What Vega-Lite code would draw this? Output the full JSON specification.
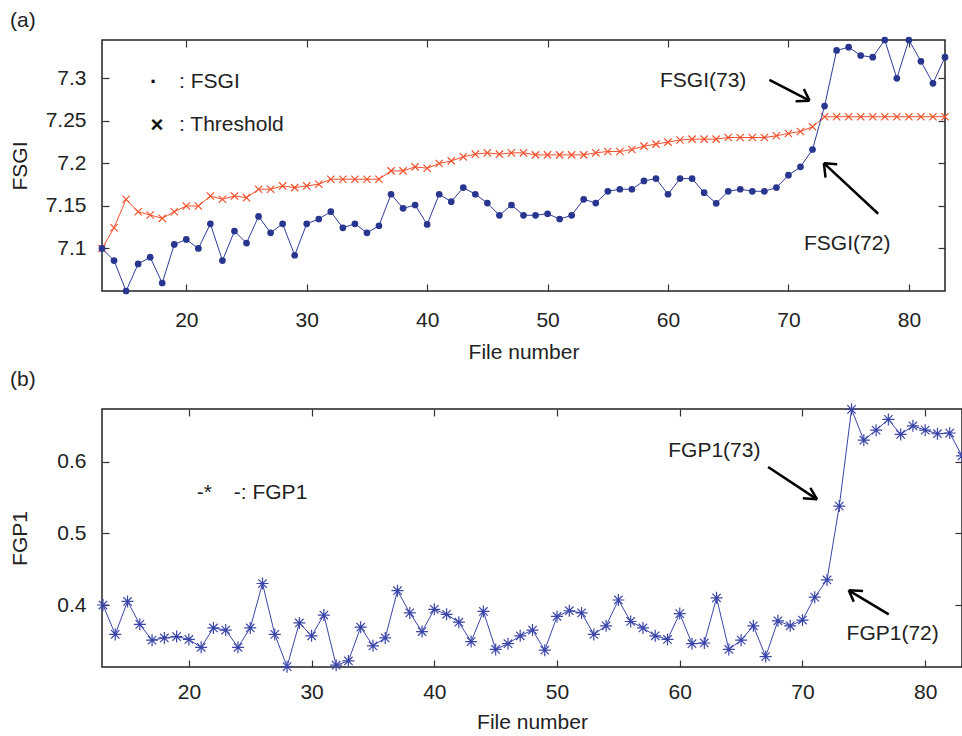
{
  "$schema": "https://vega.github.io/schema/vega-lite/v6.json",
  "padding": {"left": 8, "top": 8, "right": 0, "bottom": 0},
  "background": "white",
  "bounds": "flush",
  "spacing": 118,
  "config": {
    "font": "Liberation Sans",
    "view": {"stroke": "#222", "strokeWidth": 1.5},
    "axis": {
      "labelFont": "Liberation Sans", "titleFont": "Liberation Sans",
      "labelFontSize": 21, "titleFontSize": 21,
      "labelColor": "#222", "titleColor": "#222", "titleFontWeight": "normal",
      "grid": false, "domain": false, "tickColor": "#333", "tickSize": -7, "tickWidth": 1.2
    },
    "title": {"font": "Liberation Sans", "fontSize": 21, "fontWeight": "normal", "color": "#222"}
  },
  "datasets": {
    "fsgi": [
      {"n": 13, "fsgi": 7.1000, "thr": 7.1000},
      {"n": 14, "fsgi": 7.0858, "thr": 7.1243},
      {"n": 15, "fsgi": 7.0500, "thr": 7.1578},
      {"n": 16, "fsgi": 7.0818, "thr": 7.1432},
      {"n": 17, "fsgi": 7.0897, "thr": 7.1393},
      {"n": 18, "fsgi": 7.0594, "thr": 7.1354},
      {"n": 19, "fsgi": 7.1047, "thr": 7.1432},
      {"n": 20, "fsgi": 7.1106, "thr": 7.1499},
      {"n": 21, "fsgi": 7.1000, "thr": 7.1499},
      {"n": 22, "fsgi": 7.1290, "thr": 7.1617},
      {"n": 23, "fsgi": 7.0858, "thr": 7.1578},
      {"n": 24, "fsgi": 7.1204, "thr": 7.1617},
      {"n": 25, "fsgi": 7.1063, "thr": 7.1597},
      {"n": 26, "fsgi": 7.1377, "thr": 7.1696},
      {"n": 27, "fsgi": 7.1184, "thr": 7.1696},
      {"n": 28, "fsgi": 7.1290, "thr": 7.1735},
      {"n": 29, "fsgi": 7.0920, "thr": 7.1715},
      {"n": 30, "fsgi": 7.1290, "thr": 7.1735},
      {"n": 31, "fsgi": 7.1346, "thr": 7.1755},
      {"n": 32, "fsgi": 7.1432, "thr": 7.1814},
      {"n": 33, "fsgi": 7.1243, "thr": 7.1814},
      {"n": 34, "fsgi": 7.1290, "thr": 7.1814},
      {"n": 35, "fsgi": 7.1184, "thr": 7.1814},
      {"n": 36, "fsgi": 7.1267, "thr": 7.1814},
      {"n": 37, "fsgi": 7.1637, "thr": 7.1912},
      {"n": 38, "fsgi": 7.1472, "thr": 7.1912},
      {"n": 39, "fsgi": 7.1511, "thr": 7.1959},
      {"n": 40, "fsgi": 7.1283, "thr": 7.1943},
      {"n": 41, "fsgi": 7.1637, "thr": 7.1998},
      {"n": 42, "fsgi": 7.1550, "thr": 7.2029},
      {"n": 43, "fsgi": 7.1715, "thr": 7.2077},
      {"n": 44, "fsgi": 7.1637, "thr": 7.2108},
      {"n": 45, "fsgi": 7.1534, "thr": 7.2124},
      {"n": 46, "fsgi": 7.1390, "thr": 7.2108},
      {"n": 47, "fsgi": 7.1511, "thr": 7.2124},
      {"n": 48, "fsgi": 7.1390, "thr": 7.2124},
      {"n": 49, "fsgi": 7.1390, "thr": 7.2100},
      {"n": 50, "fsgi": 7.1408, "thr": 7.2100},
      {"n": 51, "fsgi": 7.1346, "thr": 7.2100},
      {"n": 52, "fsgi": 7.1390, "thr": 7.2100},
      {"n": 53, "fsgi": 7.1578, "thr": 7.2100},
      {"n": 54, "fsgi": 7.1534, "thr": 7.2124},
      {"n": 55, "fsgi": 7.1672, "thr": 7.2140},
      {"n": 56, "fsgi": 7.1696, "thr": 7.2140},
      {"n": 57, "fsgi": 7.1696, "thr": 7.2163},
      {"n": 58, "fsgi": 7.1794, "thr": 7.2203},
      {"n": 59, "fsgi": 7.1821, "thr": 7.2226},
      {"n": 60, "fsgi": 7.1637, "thr": 7.2250},
      {"n": 61, "fsgi": 7.1821, "thr": 7.2274},
      {"n": 62, "fsgi": 7.1821, "thr": 7.2285},
      {"n": 63, "fsgi": 7.1656, "thr": 7.2285},
      {"n": 64, "fsgi": 7.1530, "thr": 7.2285},
      {"n": 65, "fsgi": 7.1672, "thr": 7.2304},
      {"n": 66, "fsgi": 7.1696, "thr": 7.2304},
      {"n": 67, "fsgi": 7.1672, "thr": 7.2304},
      {"n": 68, "fsgi": 7.1672, "thr": 7.2304},
      {"n": 69, "fsgi": 7.1715, "thr": 7.2324},
      {"n": 70, "fsgi": 7.1861, "thr": 7.2351},
      {"n": 71, "fsgi": 7.1959, "thr": 7.2375},
      {"n": 72, "fsgi": 7.2163, "thr": 7.2430},
      {"n": 73, "fsgi": 7.2674, "thr": 7.2548},
      {"n": 74, "fsgi": 7.3327, "thr": 7.2548},
      {"n": 75, "fsgi": 7.3366, "thr": 7.2548},
      {"n": 76, "fsgi": 7.3268, "thr": 7.2548},
      {"n": 77, "fsgi": 7.3248, "thr": 7.2548},
      {"n": 78, "fsgi": 7.3450, "thr": 7.2548},
      {"n": 79, "fsgi": 7.3000, "thr": 7.2548},
      {"n": 80, "fsgi": 7.3450, "thr": 7.2548},
      {"n": 81, "fsgi": 7.3200, "thr": 7.2548},
      {"n": 82, "fsgi": 7.2941, "thr": 7.2548},
      {"n": 83, "fsgi": 7.3248, "thr": 7.2548}
    ],
    "fgp": [
      {"n": 13, "fgp": 0.400}, {"n": 14, "fgp": 0.359}, {"n": 15, "fgp": 0.405}, {"n": 16, "fgp": 0.373},
      {"n": 17, "fgp": 0.351}, {"n": 18, "fgp": 0.354}, {"n": 19, "fgp": 0.356}, {"n": 20, "fgp": 0.352},
      {"n": 21, "fgp": 0.341}, {"n": 22, "fgp": 0.368}, {"n": 23, "fgp": 0.365}, {"n": 24, "fgp": 0.341},
      {"n": 25, "fgp": 0.368}, {"n": 26, "fgp": 0.430}, {"n": 27, "fgp": 0.359}, {"n": 28, "fgp": 0.314},
      {"n": 29, "fgp": 0.375}, {"n": 30, "fgp": 0.357}, {"n": 31, "fgp": 0.386}, {"n": 32, "fgp": 0.316},
      {"n": 33, "fgp": 0.322}, {"n": 34, "fgp": 0.369}, {"n": 35, "fgp": 0.343}, {"n": 36, "fgp": 0.354},
      {"n": 37, "fgp": 0.420}, {"n": 38, "fgp": 0.389}, {"n": 39, "fgp": 0.363}, {"n": 40, "fgp": 0.394},
      {"n": 41, "fgp": 0.387}, {"n": 42, "fgp": 0.376}, {"n": 43, "fgp": 0.349}, {"n": 44, "fgp": 0.391},
      {"n": 45, "fgp": 0.338}, {"n": 46, "fgp": 0.346}, {"n": 47, "fgp": 0.357}, {"n": 48, "fgp": 0.365},
      {"n": 49, "fgp": 0.337}, {"n": 50, "fgp": 0.384}, {"n": 51, "fgp": 0.392}, {"n": 52, "fgp": 0.389},
      {"n": 53, "fgp": 0.359}, {"n": 54, "fgp": 0.371}, {"n": 55, "fgp": 0.407}, {"n": 56, "fgp": 0.377},
      {"n": 57, "fgp": 0.368}, {"n": 58, "fgp": 0.357}, {"n": 59, "fgp": 0.352}, {"n": 60, "fgp": 0.388},
      {"n": 61, "fgp": 0.346}, {"n": 62, "fgp": 0.347}, {"n": 63, "fgp": 0.410}, {"n": 64, "fgp": 0.338},
      {"n": 65, "fgp": 0.351}, {"n": 66, "fgp": 0.371}, {"n": 67, "fgp": 0.328}, {"n": 68, "fgp": 0.378},
      {"n": 69, "fgp": 0.371}, {"n": 70, "fgp": 0.379}, {"n": 71, "fgp": 0.411}, {"n": 72, "fgp": 0.435},
      {"n": 73, "fgp": 0.538}, {"n": 74, "fgp": 0.673}, {"n": 75, "fgp": 0.630}, {"n": 76, "fgp": 0.644},
      {"n": 77, "fgp": 0.659}, {"n": 78, "fgp": 0.638}, {"n": 79, "fgp": 0.650}, {"n": 80, "fgp": 0.644},
      {"n": 81, "fgp": 0.639}, {"n": 82, "fgp": 0.640}, {"n": 83, "fgp": 0.608}
    ],
    "textA_left": [
      {"n": 19.4, "v": 7.2953, "label": ": FSGI"},
      {"n": 19.4, "v": 7.2454, "label": ": Threshold"}
    ],
    "textA_center": [
      {"n": 62.92, "v": 7.2973, "label": "FSGI(73)"},
      {"n": 74.88, "v": 7.105, "label": "FSGI(72)"}
    ],
    "textA_marks": [
      {"n": 17.29, "v": 7.2953, "label": "·"},
      {"n": 17.57, "v": 7.2454, "label": "×"}
    ],
    "arrowsA": [
      {"x": 68.42, "y": 7.2981, "x2": 71.75, "y2": 7.2737},
      {"x": 71.75, "y": 7.2737, "x2": 70.60, "y2": 7.2729},
      {"x": 71.75, "y": 7.2737, "x2": 71.28, "y2": 7.2875},
      {"x": 77.45, "y": 7.1408, "x2": 72.94, "y2": 7.2002},
      {"x": 72.94, "y": 7.2002, "x2": 74.05, "y2": 7.1991},
      {"x": 72.94, "y": 7.2002, "x2": 73.08, "y2": 7.1833}
    ],
    "textB_left": [
      {"n": 20.65, "v": 0.5562, "label": "-*"},
      {"n": 23.66, "v": 0.5562, "label": "-: FGP1"}
    ],
    "textB_center": [
      {"n": 62.82, "v": 0.6148, "label": "FGP1(73)"},
      {"n": 77.35, "v": 0.3596, "label": "FGP1(72)"}
    ],
    "arrowsB": [
      {"x": 67.2, "y": 0.5925, "x2": 71.19, "y2": 0.5474},
      {"x": 71.19, "y": 0.5474, "x2": 70.03, "y2": 0.5488},
      {"x": 71.19, "y": 0.5474, "x2": 70.64, "y2": 0.5636},
      {"x": 77.03, "y": 0.387, "x2": 73.77, "y2": 0.4205},
      {"x": 73.77, "y": 0.4205, "x2": 74.94, "y2": 0.4195},
      {"x": 73.77, "y": 0.4205, "x2": 74.18, "y2": 0.4046}
    ]
  },
  "vconcat": [
    {
      "width": 843,
      "height": 251,
      "title": {"text": "(a)", "anchor": "start", "frame": "group", "dx": -92, "baseline": "alphabetic", "offset": -11},
      "resolve": {"axis": {"x": "independent", "y": "independent"}},
      "layer": [
        {
          "data": {"name": "fsgi"},
          "mark": {"type": "line", "color": "#f4512c", "strokeWidth": 1},
          "encoding": {
            "x": {"field": "n", "type": "quantitative", "scale": {"domain": [13, 83], "nice": false, "zero": false},
                  "axis": {"orient": "top", "labels": false, "title": null, "values": [20, 30, 40, 50, 60, 70, 80]}},
            "y": {"field": "thr", "type": "quantitative", "scale": {"domain": [7.05, 7.345], "nice": false, "zero": false},
                  "axis": {"orient": "right", "labels": false, "title": null, "values": [7.1, 7.15, 7.2, 7.25, 7.3]}}
          }
        },
        {
          "data": {"name": "fsgi"},
          "mark": {"type": "point", "shape": "M-1,-1L1,1M-1,1L1,-1", "filled": false, "color": "#f4512c", "strokeWidth": 1.2, "size": 53, "opacity": 1},
          "encoding": {
            "x": {"field": "n", "type": "quantitative", "axis": null},
            "y": {"field": "thr", "type": "quantitative", "axis": null}
          }
        },
        {
          "data": {"name": "fsgi"},
          "mark": {"type": "line", "color": "#2e3c9c", "strokeWidth": 1},
          "encoding": {
            "x": {"field": "n", "type": "quantitative",
                  "axis": {"orient": "bottom", "title": "File number", "values": [20, 30, 40, 50, 60, 70, 80], "format": "d",
                           "labelPadding": 25, "titleBaseline": "alphabetic", "titleY": 67}},
            "y": {"field": "fsgi", "type": "quantitative",
                  "axis": {"orient": "left", "title": "FSGI", "values": [7.1, 7.15, 7.2, 7.25, 7.3], "format": "~g",
                           "labelPadding": 23, "titleBaseline": "alphabetic", "titleX": -76}}
          }
        },
        {
          "data": {"name": "fsgi"},
          "mark": {"type": "circle", "color": "#29368f", "size": 45, "opacity": 1},
          "encoding": {
            "x": {"field": "n", "type": "quantitative", "axis": null},
            "y": {"field": "fsgi", "type": "quantitative", "axis": null}
          }
        },
        {
          "data": {"name": "arrowsA"},
          "mark": {"type": "rule", "color": "#000", "strokeWidth": 2.5},
          "encoding": {
            "x": {"field": "x", "type": "quantitative", "axis": null},
            "y": {"field": "y", "type": "quantitative", "axis": null},
            "x2": {"field": "x2"},
            "y2": {"field": "y2"}
          }
        },
        {
          "data": {"name": "textA_left"},
          "mark": {"type": "text", "align": "left", "baseline": "middle", "fontSize": 21, "color": "#222", "font": "Liberation Sans"},
          "encoding": {
            "x": {"field": "n", "type": "quantitative", "axis": null},
            "y": {"field": "v", "type": "quantitative", "axis": null},
            "text": {"field": "label"}
          }
        },
        {
          "data": {"name": "textA_marks"},
          "mark": {"type": "text", "align": "center", "baseline": "middle", "fontSize": 22, "fontWeight": "bold", "color": "#111", "font": "Liberation Sans"},
          "encoding": {
            "x": {"field": "n", "type": "quantitative", "axis": null},
            "y": {"field": "v", "type": "quantitative", "axis": null},
            "text": {"field": "label"}
          }
        },
        {
          "data": {"name": "textA_center"},
          "mark": {"type": "text", "align": "center", "baseline": "middle", "fontSize": 21, "color": "#222", "font": "Liberation Sans"},
          "encoding": {
            "x": {"field": "n", "type": "quantitative", "axis": null},
            "y": {"field": "v", "type": "quantitative", "axis": null},
            "text": {"field": "label"}
          }
        }
      ]
    },
    {
      "width": 860,
      "height": 258,
      "title": {"text": "(b)", "anchor": "start", "frame": "group", "dx": -92, "baseline": "alphabetic", "offset": -6},
      "resolve": {"axis": {"x": "independent", "y": "independent"}},
      "layer": [
        {
          "data": {"name": "fgp"},
          "mark": {"type": "line", "color": "#3a46a8", "strokeWidth": 1},
          "encoding": {
            "x": {"field": "n", "type": "quantitative", "scale": {"domain": [12.92, 83], "nice": false, "zero": false},
                  "axis": {"orient": "bottom", "title": "File number", "values": [20, 30, 40, 50, 60, 70, 80], "format": "d",
                           "labelPadding": 21, "titleBaseline": "alphabetic", "titleY": 61}},
            "y": {"field": "fgp", "type": "quantitative", "scale": {"domain": [0.3135, 0.6735], "nice": false, "zero": false},
                  "axis": {"orient": "left", "title": "FGP1", "values": [0.4, 0.5, 0.6], "format": "~g",
                           "labelPadding": 23, "titleBaseline": "alphabetic", "titleX": -76}}
          }
        },
        {
          "data": {"name": "fgp"},
          "mark": {"type": "point", "shape": "M-1,0L1,0M0,-1L0,1M-0.7,-0.7L0.7,0.7M-0.7,0.7L0.7,-0.7", "filled": false, "color": "#3a46a8", "strokeWidth": 1.2, "size": 144, "opacity": 1},
          "encoding": {
            "x": {"field": "n", "type": "quantitative",
                  "axis": {"orient": "top", "labels": false, "title": null, "values": [20, 30, 40, 50, 60, 70, 80]}},
            "y": {"field": "fgp", "type": "quantitative",
                  "axis": {"orient": "right", "labels": false, "title": null, "values": [0.4, 0.5, 0.6]}}
          }
        },
        {
          "data": {"name": "arrowsB"},
          "mark": {"type": "rule", "color": "#000", "strokeWidth": 2.5},
          "encoding": {
            "x": {"field": "x", "type": "quantitative", "axis": null},
            "y": {"field": "y", "type": "quantitative", "axis": null},
            "x2": {"field": "x2"},
            "y2": {"field": "y2"}
          }
        },
        {
          "data": {"name": "textB_left"},
          "mark": {"type": "text", "align": "left", "baseline": "middle", "fontSize": 21, "color": "#222", "font": "Liberation Sans"},
          "encoding": {
            "x": {"field": "n", "type": "quantitative", "axis": null},
            "y": {"field": "v", "type": "quantitative", "axis": null},
            "text": {"field": "label"}
          }
        },
        {
          "data": {"name": "textB_center"},
          "mark": {"type": "text", "align": "center", "baseline": "middle", "fontSize": 21, "color": "#222", "font": "Liberation Sans"},
          "encoding": {
            "x": {"field": "n", "type": "quantitative", "axis": null},
            "y": {"field": "v", "type": "quantitative", "axis": null},
            "text": {"field": "label"}
          }
        }
      ]
    }
  ]
}
